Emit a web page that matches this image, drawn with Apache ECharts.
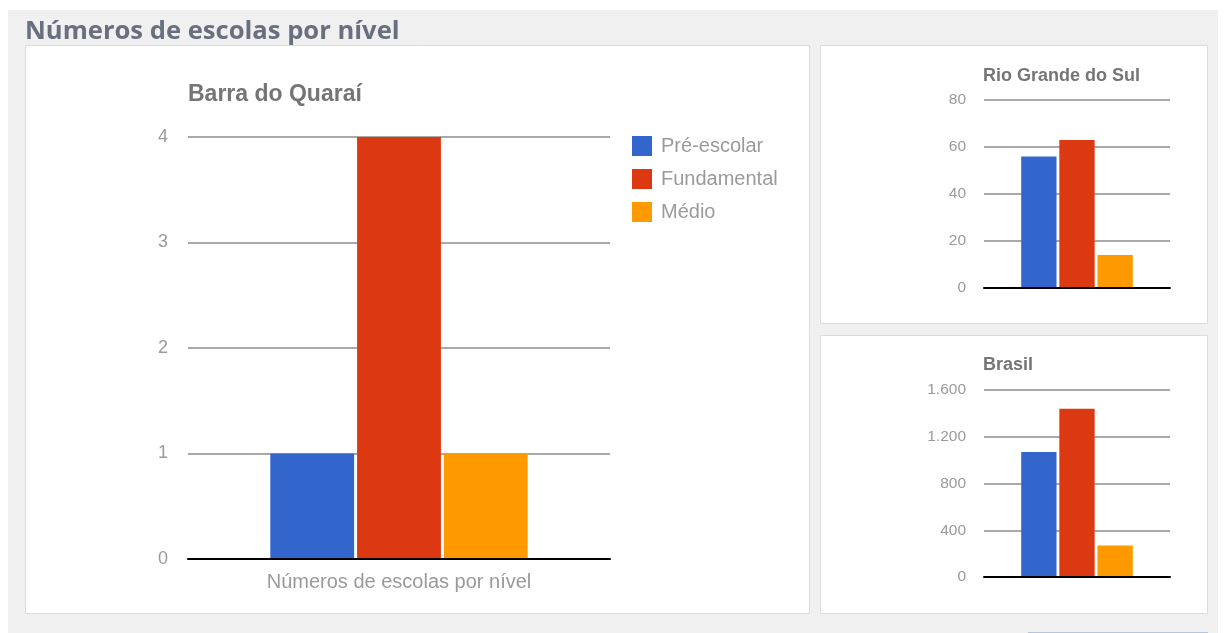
<!DOCTYPE html>
<html><head><meta charset="utf-8">
<style>html,body{margin:0;padding:0;background:#fff;}#c{width:1224px;height:633px;}</style>
<script src="https://cdn.jsdelivr.net/npm/echarts@6/dist/echarts.min.js"></script>
</head><body><div id="c"></div>
<script>
const seriesNames = ['Pré-escolar', 'Fundamental', 'Médio'];
const colors = ['#3366cc', '#dc3912', '#ff9900'];
const categories = ['Números de escolas por nível'];
const quaraiValues = [1, 4, 1];
const rgsValues = [56, 63, 14];
const brasilValues = [1070, 1440, 270];
const chartTitles = ['Barra do Quaraí', 'Rio Grande do Sul', 'Brasil'];
const pageTitle = 'Números de escolas por nível';

const fmtBR = v => String(v).replace(/\B(?=(\d{3})+(?!\d))/g, '.');
const FONT = 'Liberation Sans, Arial, sans-serif';

const chart = echarts.init(document.getElementById('c'));

const grids = [
  {left: 188, top: 137, width: 422, height: 422},
  {left: 984, top: 100, width: 186, height: 188},
  {left: 984, top: 390, width: 186, height: 187}
];
const yAxes = [
  {min: 0, max: 4, interval: 1, fs: 18, margin: 20},
  {min: 0, max: 80, interval: 20, fs: 15.5, margin: 18},
  {min: 0, max: 1600, interval: 400, fs: 15.5, margin: 18}
];
const dataSets = [quaraiValues, rgsValues, brasilValues];

const series = [];
dataSets.forEach((vals, gi) => {
  vals.forEach((v, si) => {
    series.push({
      type: 'bar', name: seriesNames[si], xAxisIndex: gi, yAxisIndex: gi,
      data: [v], barGap: gi === 0 ? '3.5%' : '8%', barCategoryGap: gi === 0 ? '39%' : '40%',
      itemStyle: {color: colors[si]}, z: 2, emphasis: {disabled: true}
    });
  });
});

chart.setOption({
  backgroundColor: '#ffffff',
  animation: false,
  graphic: [
    {type: 'rect', shape: {x: 8, y: 10, width: 1210, height: 623}, style: {fill: '#f0f0f0'}, z: -10},
    {type: 'rect', shape: {x: 25.5, y: 45.5, width: 784, height: 568}, style: {fill: '#ffffff', stroke: '#dcdcdc', lineWidth: 1}, z: -9},
    {type: 'rect', shape: {x: 820.5, y: 45.5, width: 387, height: 278}, style: {fill: '#ffffff', stroke: '#dcdcdc', lineWidth: 1}, z: -9},
    {type: 'rect', shape: {x: 820.5, y: 335.5, width: 387, height: 278}, style: {fill: '#ffffff', stroke: '#dcdcdc', lineWidth: 1}, z: -9},
    {type: 'line', shape: {x1: 1028, y1: 632.5, x2: 1208, y2: 632.5}, style: {stroke: '#b8c4d8', lineWidth: 1}, z: -8},
    {type: 'text', left: 25, top: 19, style: {text: pageTitle, fill: '#687080', font: 'bold 25.6px "Open Sans", sans-serif'}}
  ],
  title: [
    {text: chartTitles[0], left: 188, top: 83, padding: 0, textStyle: {color: '#757575', fontSize: 23, fontWeight: 'bold', fontFamily: FONT}},
    {text: chartTitles[1], left: 983, top: 67, padding: 0, textStyle: {color: '#757575', fontSize: 18, fontWeight: 'bold', fontFamily: FONT}},
    {text: chartTitles[2], left: 983, top: 356, padding: 0, textStyle: {color: '#757575', fontSize: 18, fontWeight: 'bold', fontFamily: FONT}}
  ],
  legend: {
    data: seriesNames, orient: 'vertical', left: 627, top: 131, itemWidth: 20, itemHeight: 20, itemGap: 13,
    icon: 'rect', selectedMode: false,
    textStyle: {color: '#9a9a9a', fontSize: 20, fontFamily: FONT, padding: [0, 0, 0, 4]}
  },
  grid: grids,
  xAxis: grids.map((g, i) => ({
    type: 'category', gridIndex: i, data: categories, z: 5,
    axisLine: {lineStyle: {color: '#000', width: 2}}, axisTick: {show: false},
    axisLabel: {show: i === 0, color: '#9a9a9a', fontSize: 20, margin: 13, fontFamily: FONT}
  })),
  yAxis: yAxes.map((y, i) => ({
    type: 'value', gridIndex: i, min: y.min, max: y.max, interval: y.interval,
    axisLine: {show: false}, axisTick: {show: false},
    splitLine: {lineStyle: {color: '#8c8c8c', width: 1.5}},
    axisLabel: {color: '#9a9a9a', fontSize: y.fs, margin: y.margin, fontFamily: FONT, formatter: fmtBR}
  })),
  series: series
});
</script></body></html>
